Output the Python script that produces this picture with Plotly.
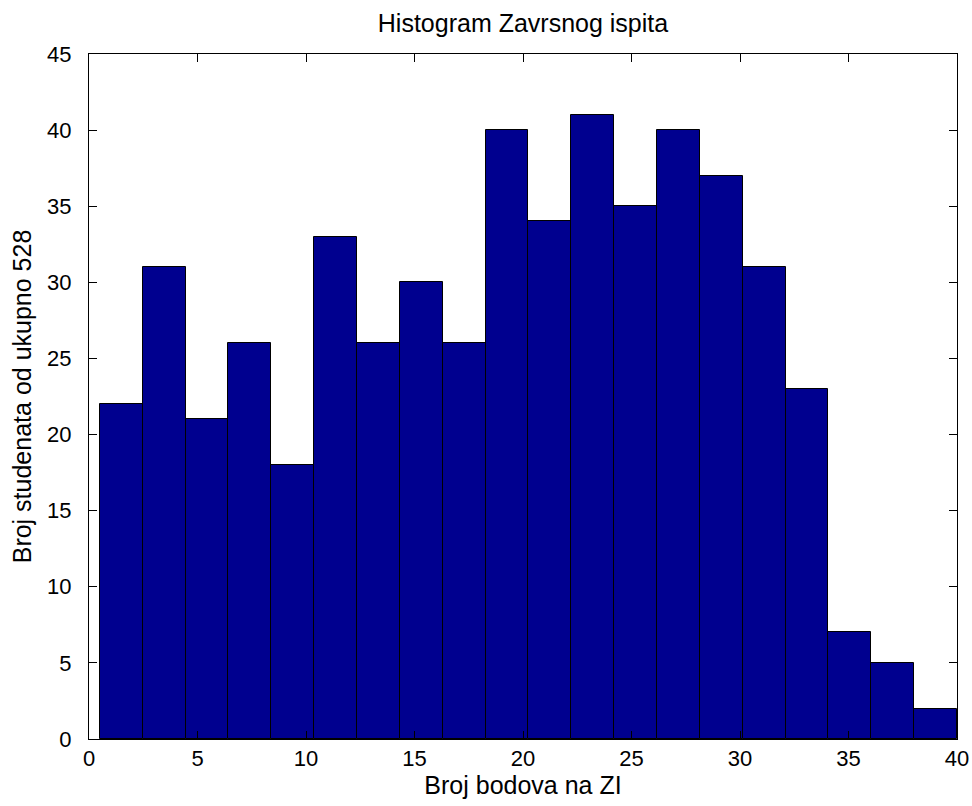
import plotly.graph_objects as go

# Histogram counts (MATLAB hist, 20 bins between min and max score)
counts = [22, 31, 21, 26, 18, 33, 26, 30, 26, 40, 34, 41, 35, 40, 37, 31, 23, 7, 5, 2]
score_min = 0.5
score_max = 40.0
x_ticks = [0, 5, 10, 15, 20, 25, 30, 35, 40]
y_ticks = [0, 5, 10, 15, 20, 25, 30, 35, 40, 45]

title_text = "Histogram Zavrsnog ispita"
x_label = "Broj bodova na ZI"
y_label = "Broj studenata od ukupno 528"

n_bins = len(counts)
bin_w = (score_max - score_min) / n_bins
centers = [score_min + (i + 0.5) * bin_w for i in range(n_bins)]

FONT = "Liberation Sans, Arial, Helvetica, sans-serif"

fig = go.Figure()
fig.add_trace(go.Bar(
    x=centers, y=counts, width=bin_w,
    marker=dict(color="rgb(0,0,143)", line=dict(color="black", width=1)),
    showlegend=False, hoverinfo="x+y",
))

axis_common = dict(
    showline=True, linecolor="black", linewidth=1, mirror="allticks",
    ticks="inside", ticklen=8, tickwidth=1, tickcolor="black",
    showgrid=False, zeroline=False, automargin=False,
    tickfont=dict(family=FONT, size=22, color="black"),
)

fig.update_layout(
    width=972, height=806,
    margin=dict(l=89, r=15, t=54, b=67, autoexpand=False),
    paper_bgcolor="white", plot_bgcolor="white",
    bargap=0,
    font=dict(family=FONT, color="black"),
    title=dict(text=title_text, x=0.5, xref="paper", xanchor="center",
               y=1, yref="paper", yanchor="bottom", pad=dict(b=22),
               font=dict(family=FONT, size=25, color="black")),
    xaxis=dict(range=[0, 40], tickvals=x_ticks, ticktext=[str(v) for v in x_ticks],
               title=dict(text=x_label, font=dict(family=FONT, size=25, color="black"), standoff=6),
               **axis_common),
    yaxis=dict(range=[0, 45], tickvals=y_ticks, ticktext=[str(v) for v in y_ticks],
               title=dict(text=y_label, font=dict(family=FONT, size=25, color="black"), standoff=8),
               ticklabelstandoff=12,
               **axis_common),
)

fig.write_html("out.html",
               config={"displayModeBar": False},
               post_script="document.body.style.margin='0';document.body.style.padding='0';")
